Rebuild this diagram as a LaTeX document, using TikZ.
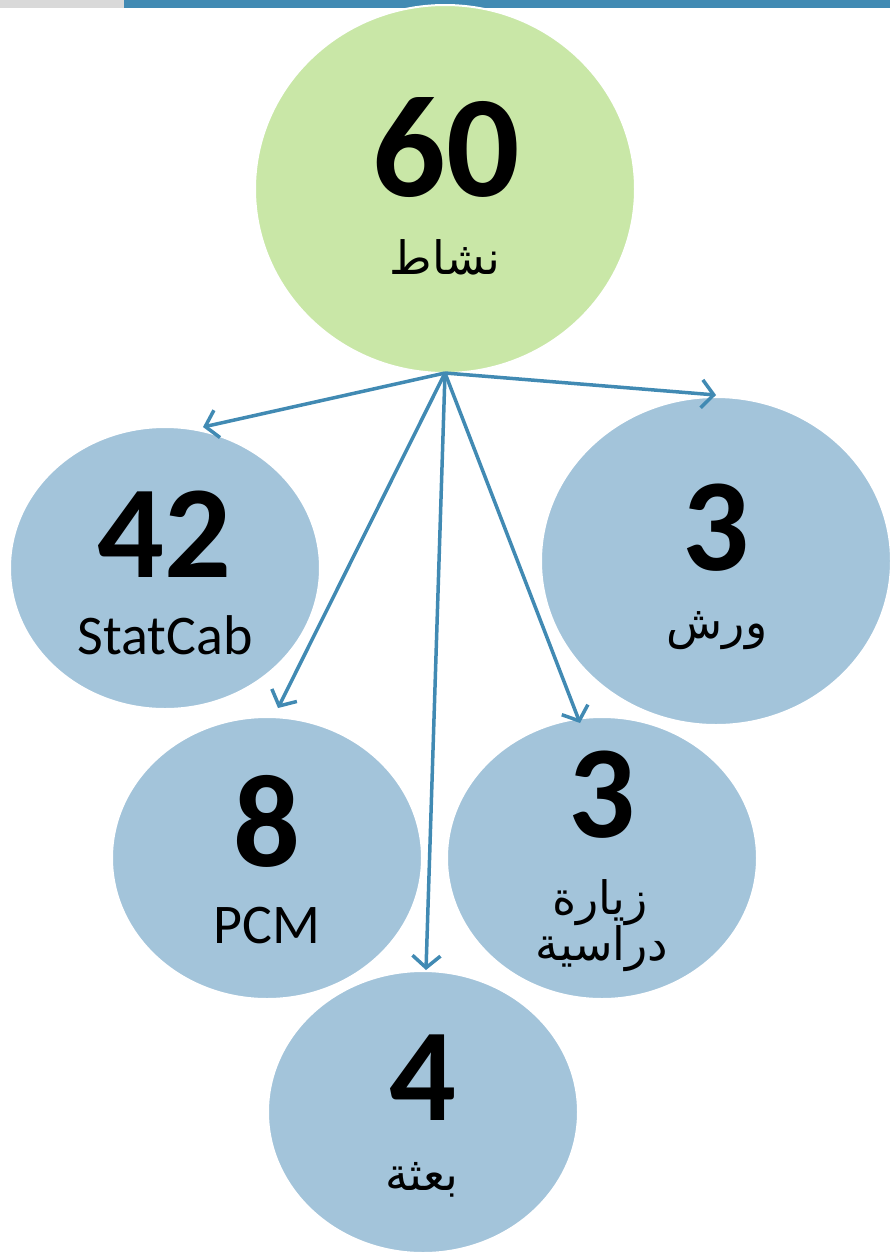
\documentclass[tikz,border=0pt]{standalone}
\usepackage{fontspec}
\setmainfont{Carlito}
\newfontfamily\arabicfont[Script=Arabic]{DejaVu Sans}
\TeXXeTstate=1
\usetikzlibrary{shapes.geometric,arrows.meta}
\definecolor{barblue}{HTML}{418AB3}
\definecolor{bargray}{HTML}{D9D9D9}
\definecolor{topgreen}{HTML}{C9E7A7}
\definecolor{bubblue}{HTML}{A3C4DA}
\tikzset{
  bubble/.style={ellipse, draw=white, line width=2pt, inner sep=0pt, outer sep=0pt},
  num/.style={anchor=base, inner sep=0pt, font=\fontsize{132}{140}\selectfont\bfseries},
  bignum/.style={anchor=base, inner sep=0pt, font=\fontsize{145}{150}\selectfont\bfseries},
  lbl/.style={anchor=base, inner sep=0pt, font=\fontsize{56}{60}\selectfont},
  albl/.style={anchor=base, inner sep=0pt, font=\fontsize{46}{50}\selectfont\arabicfont},
  arr/.style={draw=barblue, line width=3.5pt, -{Straight Barb[length=12pt,width=28pt]}}
}
\begin{document}
\begin{tikzpicture}[x=1pt,y=-1pt]
\useasboundingbox (0,0) rectangle (890,1254);
\fill[bargray] (0,0) rectangle (124,8);
\fill[barblue] (124,0) rectangle (890,8);
% bubbles
\node[bubble, fill=topgreen, minimum width=380pt, minimum height=368pt] (top) at (445,189) {};
\node[bubble, fill=bubblue, minimum width=310pt, minimum height=282pt] (stat) at (165,568) {};
\node[bubble, fill=bubblue, minimum width=350pt, minimum height=328pt] (warsh) at (716,561) {};
\node[bubble, fill=bubblue, minimum width=310pt, minimum height=282pt] (pcm) at (267,858) {};
\node[bubble, fill=bubblue, minimum width=310pt, minimum height=282pt] (ziyara) at (602,858) {};
\node[bubble, fill=bubblue, minimum width=310pt, minimum height=282pt] (baatha) at (423,1112) {};
% texts
\node[bignum] (t60) at (446,196) {60};
\node[albl] (tnashat) at (445,274) {\beginR نشاط\endR};
\node[num] (t42) at (164,577) {42};
\node[lbl] (tstat) at (165,654) {StatCab};
\node[num] (t3a) at (716,570) {3};
\node[albl] (twarsh) at (717,638) {\beginR ورش\endR};
\node[num] (t8) at (267,866) {8};
\node[lbl] (tpcm) at (267,943) {PCM};
\node[num] (t3b) at (602,837) {3};
\node[albl] (tziy) at (600,914) {\beginR زيارة\endR};
\node[albl] (tdir) at (602,960) {\beginR دراسية\endR};
\node[num] (t4) at (423,1120) {4};
\node[albl] (tbaa) at (422,1190) {\beginR بعثة\endR};
% arrow ends
\coordinate (eStat) at (203,427);
\coordinate (eWarsh) at (716,395);
\coordinate (ePcm) at (278,708);
\coordinate (eBaa) at (426,970);
\coordinate (eZiy) at (580,723);
\draw[arr] (top.south) -- (eStat);
\draw[arr] (top.south) -- (eWarsh);
\draw[arr] (top.south) -- (ePcm);
\draw[arr] (top.south) -- (eBaa);
\draw[arr] (top.south) -- (eZiy);
\end{tikzpicture}
\end{document}
